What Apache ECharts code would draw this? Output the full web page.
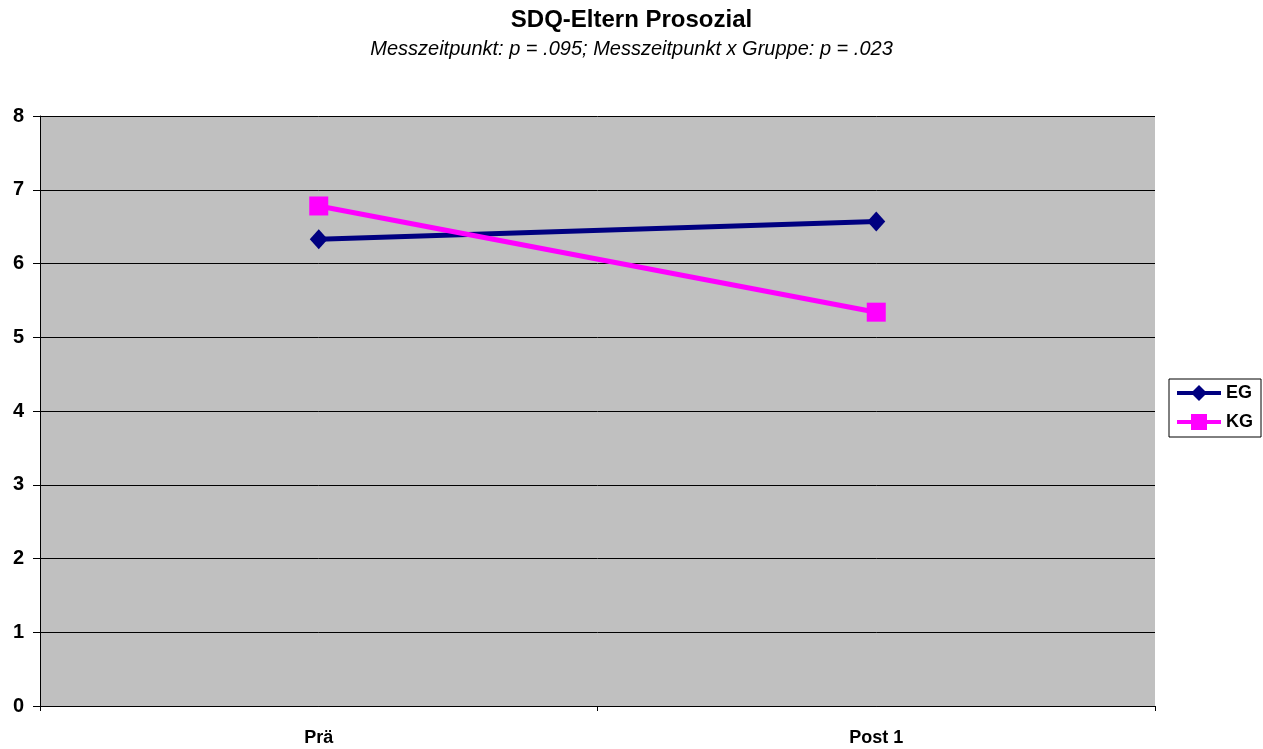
<!DOCTYPE html>
<html>
<head>
<meta charset="utf-8">
<script src="https://cdn.jsdelivr.net/npm/echarts@6/dist/echarts.min.js"></script>
<style>
  html, body { margin: 0; padding: 0; background: #ffffff; }
  #chart { width: 1263px; height: 749px; }
</style>
</head>
<body>
<div id="chart"></div>
<script>
// Messzeitpunkte und Gruppenmittelwerte
const categories = ['Prä', 'Post 1'];
const egValues = [6.33, 6.57];
const kgValues = [6.78, 5.34];
const yTicks = [0, 1, 2, 3, 4, 5, 6, 7, 8];

const FONT = '"Liberation Sans", Arial, sans-serif';

const chart = echarts.init(document.getElementById('chart'));
chart.setOption({
  backgroundColor: '#ffffff',
  animation: false,
  title: [
    {
      text: 'SDQ-Eltern Prosozial',
      left: 'center',
      top: 3,
      textStyle: { fontFamily: FONT, fontSize: 24, fontWeight: 'bold', color: '#000' }
    },
    {
      text: 'Messzeitpunkt: p = .095; Messzeitpunkt x Gruppe: p = .023',
      left: 'center',
      top: 34,
      textStyle: { fontFamily: FONT, fontSize: 20, fontWeight: 'normal', fontStyle: 'italic', color: '#000' }
    }
  ],
  legend: {
    orient: 'vertical',
    right: 2,
    top: 379,
    padding: [5, 8, 6, 6],
    itemGap: 11,
    itemWidth: 44,
    itemHeight: 20,
    borderColor: '#000',
    borderWidth: 1,
    borderRadius: 0,
    backgroundColor: '#fff',
    lineStyle: { width: 4 },
    textStyle: { fontFamily: FONT, fontSize: 18, fontWeight: 'bold', color: '#000' },
    data: ['EG', 'KG']
  },
  grid: {
    left: 40,
    right: 108,
    top: 116,
    bottom: 43,
    show: true,
    backgroundColor: '#c0c0c0',
    borderWidth: 0
  },
  xAxis: {
    type: 'category',
    data: categories,
    boundaryGap: true,
    axisLine: { lineStyle: { color: '#000', width: 1 } },
    axisTick: { show: true, length: 5, lineStyle: { color: '#000' } },
    axisLabel: { fontFamily: FONT, fontSize: 18, fontWeight: 'bold', color: '#000', margin: 23 }
  },
  yAxis: {
    type: 'value',
    min: yTicks[0],
    max: yTicks[yTicks.length - 1],
    interval: 1,
    axisLine: { show: true, lineStyle: { color: '#000', width: 1 } },
    axisTick: { show: true, length: 7, lineStyle: { color: '#000' } },
    axisLabel: { fontFamily: FONT, fontSize: 20, fontWeight: 'bold', color: '#000', margin: 16 },
    splitLine: { show: true, lineStyle: { color: '#000', width: 1 } }
  },
  series: [
    {
      name: 'EG',
      type: 'line',
      data: egValues,
      color: '#000080',
      symbol: 'diamond',
      symbolSize: [18, 20],
      lineStyle: { width: 5, color: '#000080' },
      itemStyle: { color: '#000080' }
    },
    {
      name: 'KG',
      type: 'line',
      data: kgValues,
      color: '#ff00ff',
      symbol: 'rect',
      symbolSize: 19,
      lineStyle: { width: 5, color: '#ff00ff' },
      itemStyle: { color: '#ff00ff' }
    }
  ]
});
</script>
</body>
</html>
